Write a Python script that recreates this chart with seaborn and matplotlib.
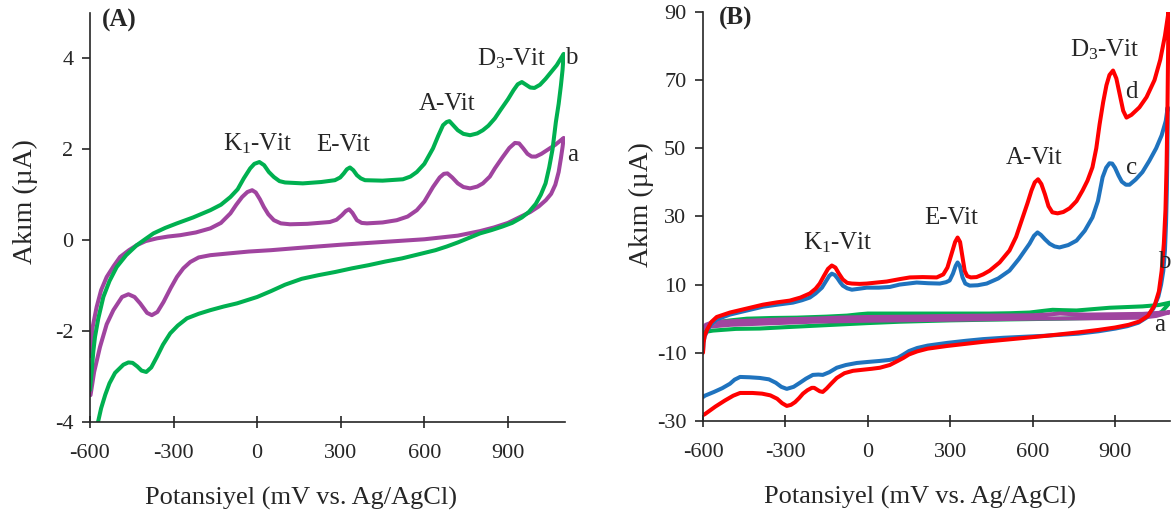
import numpy as np
import pandas as pd
import matplotlib
matplotlib.use("Agg")
import matplotlib.pyplot as plt
import seaborn as sns

# ---- Panel A: potential (mV) / current (uA); forward scan then reverse scan ----
a_fwd_x = [-600, -590, -576, -560, -540, -515, -492, -460, -432, -400, -360, -320, -276, -220, -168, -130,
           -96, -75, -54, -35, -18, -5, 10, 24, 40, 60, 85, 118, 180, 261, 285, 304, 318, 330, 342, 358,
           375, 394, 450, 501, 540, 573, 600, 631, 655, 670, 683, 700, 720, 740, 764, 790, 810, 835, 853,
           880, 905, 925, 940, 955, 970, 985, 1000, 1020, 1045, 1070, 1090, 1100]
a_fwd_y = [-2.55, -1.9, -1.47, -1.1, -0.81, -0.57, -0.37, -0.22, -0.11, -0.02, 0.04, 0.08, 0.11, 0.17, 0.26, 0.38,
           0.59, 0.78, 0.95, 1.06, 1.10, 1.05, 0.9, 0.73, 0.57, 0.44, 0.37, 0.35, 0.36, 0.40, 0.45, 0.55, 0.64, 0.68, 0.6, 0.44,
           0.38, 0.37, 0.39, 0.44, 0.52, 0.66, 0.85, 1.17, 1.38, 1.46, 1.47, 1.38, 1.25, 1.17, 1.14, 1.18, 1.25, 1.4, 1.58,
           1.82, 2.03, 2.14, 2.13, 2.02, 1.9, 1.84, 1.84, 1.9, 2.0, 2.1, 2.2, 2.25]
a_rev_x = [1100, 1096, 1090, 1082, 1070, 1055, 1036, 1010, 980, 940, 900, 850, 800, 720, 600, 450, 300, 150,
           50, -30, -100, -168, -210, -240, -265, -288, -310, -336, -358, -378, -395, -420, -440, -462, -485,
           -516, -540, -564, -585, -598]
a_rev_y = [2.25, 2.05, 1.8, 1.5, 1.22, 1.02, 0.88, 0.74, 0.62, 0.5, 0.38, 0.28, 0.2, 0.1, 0.02, -0.04, -0.1, -0.17,
           -0.22, -0.25, -0.29, -0.33, -0.38, -0.48, -0.62, -0.81, -1.05, -1.36, -1.58, -1.65, -1.6, -1.39, -1.25, -1.19, -1.25,
           -1.54, -1.85, -2.35, -2.9, -3.41]

b_fwd_x = [-600, -594, -588, -582, -570, -552, -530, -504, -470, -432, -400, -372, -330, -288, -230, -168,
           -130, -96, -70, -48, -25, -10, 8, 25, 42, 60, 80, 100, 164, 230, 279, 298, 311, 322, 333, 345,
           358, 372, 387, 450, 523, 550, 573, 600, 631, 650, 667, 680, 690, 705, 720, 740, 764, 790, 810,
           830, 853, 875, 900, 920, 935, 950, 965, 980, 995, 1015, 1035, 1055, 1075, 1090, 1100]
b_fwd_y = [-3.3, -2.9, -2.45, -2.13, -1.72, -1.25, -0.9, -0.59, -0.33, -0.11, 0.03, 0.15, 0.27, 0.37, 0.5, 0.66,
           0.78, 0.95, 1.12, 1.36, 1.58, 1.68, 1.72, 1.65, 1.5, 1.39, 1.3, 1.27, 1.25, 1.28, 1.32, 1.38, 1.47, 1.56, 1.6, 1.54,
           1.43, 1.36, 1.32, 1.31, 1.34, 1.4, 1.5, 1.68, 2.02, 2.3, 2.53, 2.6, 2.62, 2.52, 2.42, 2.34, 2.31, 2.35, 2.42,
           2.52, 2.68, 2.88, 3.1, 3.3, 3.43, 3.48, 3.42, 3.36, 3.35, 3.42, 3.55, 3.7, 3.85, 4.0, 4.1]
b_rev_x = [1100, 1096, 1090, 1082, 1072, 1060, 1048, 1035, 1018, 1000, 975, 950, 915, 880, 840, 800, 760,
           720, 680, 640, 580, 520, 460, 400, 340, 280, 220, 160, 100, 50, 0, -72, -120, -168, -210, -252,
           -285, -312, -338, -360, -380, -398, -415, -430, -447, -462, -480, -510, -530, -545, -560, -571, -585]
b_rev_y = [4.1, 3.75, 3.4, 3.0, 2.6, 2.0, 1.6, 1.25, 1.0, 0.8, 0.62, 0.5, 0.38, 0.3, 0.22, 0.15, 0.05,
           -0.05, -0.14, -0.22, -0.31, -0.4, -0.47, -0.55, -0.62, -0.7, -0.77, -0.85, -0.98, -1.12, -1.25, -1.39, -1.46, -1.54,
           -1.62, -1.72, -1.88, -2.05, -2.3, -2.57, -2.8, -2.9, -2.87, -2.78, -2.7, -2.69, -2.74, -2.92, -3.15, -3.4, -3.7,
           -4.0, -4.4]

# ---- Panel B ----
pa_fwd_x = [-600, -590, -564, -480, -400, -300, -200, -100, 0, 150, 300, 450, 600, 650, 700, 750, 800, 900, 1000, 1100]
pa_fwd_y = [-3.0, -1.8, -1.0, -0.7, -0.5, -0.2, 0.0, 0.3, 0.5, 0.6, 0.8, 0.9, 1.0, 1.2, 1.5, 1.3, 1.2, 1.3, 1.4, 1.9]
pa_rev_x = [1100, 1050, 1000, 800, 600, 400, 200, 0, -200, -300, -400, -500, -600]
pa_rev_y = [1.9, 0.8, 0.3, 0.1, 0.0, -0.2, -0.4, -0.6, -0.9, -1.2, -1.5, -1.8, -2.5]

pb_fwd_x = [-600, -590, -564, -500, -440, -350, -258, -150, -76, -30, 0, 116, 324, 444, 520, 589, 640, 673,
            710, 760, 880, 1000, 1060, 1100]
pb_fwd_y = [-4.0, -2.5, -1.2, -0.5, 0.0, 0.2, 0.3, 0.6, 0.9, 1.3, 1.5, 1.5, 1.5, 1.5, 1.6, 1.8, 2.3, 2.6,
            2.5, 2.4, 3.2, 3.6, 4.0, 4.7]
pb_rev_x = [1100, 1070, 1050, 1000, 880, 700, 444, 300, 116, 0, -200, -300, -393, -480, -564, -600]
pb_rev_y = [4.7, 2.0, 1.2, 0.6, 0.3, 0.0, -0.3, -0.5, -0.9, -1.3, -2.1, -2.5, -2.9, -3.0, -3.5, -4.0]

c_fwd_x = [-600, -598, -594, -585, -570, -550, -502, -440, -382, -330, -273, -240, -211, -190, -167, -150,
           -140, -131, -120, -110, -100, -91, -75, -58, -30, -4, 40, 80, 116, 178, 220, 262, 285, 298, 310,
           320, 327, 335, 345, 355, 371, 400, 433, 475, 516, 550, 589, 605, 618, 630, 645, 662, 680, 698,
           730, 760, 790, 818, 838, 855, 868, 880, 890, 900, 913, 925, 940, 953, 975, 1000, 1025, 1050,
           1070, 1085, 1092]
c_fwd_y = [-9.5, -7, -5.2, -3.6, -1.6, -0.2, 1.2, 2.4, 3.5, 4.1, 4.7, 5.4, 6.2, 7.4, 9.1, 11.3,
           12.6, 13.2, 12.8, 11.8, 10.6, 9.7, 8.9, 8.5, 8.8, 9.1, 9.1, 9.3, 10, 10.6, 10.4, 10.3, 10.7, 11.2, 13.2,
           15.5, 16.5, 15.5, 12.1, 10.3, 9.7, 9.8, 10.3, 11.8, 14.1, 17.5, 22, 24.3, 25.3, 24.6, 23.3, 22, 21.2, 20.9,
           21.6, 22.9, 25.8, 29.7, 34.5, 41.5, 44.3, 45.6, 45.5, 44.3, 42, 40.2, 39.3, 39.3, 40.8, 43, 46.3, 50,
           53.8, 58, 62]
c_rev_x = [1092, 1091, 1089, 1086, 1082, 1076, 1068, 1058, 1040, 1015, 985, 945, 902, 840, 767, 650, 495,
           420, 356, 290, 218, 180, 150, 130, 109, 80, 44, 0, -40, -80, -113, -140, -164, -180, -200, -225,
           -247, -270, -295, -315, -335, -360, -393, -430, -465, -485, -502, -530, -560, -593, -600]
c_rev_y = [62, 50, 38, 28, 20, 14, 10, 6.5, 3, 0.3, -1.2, -2.2, -2.9, -3.7, -4.4, -5.0, -5.6,
           -6.0, -6.5, -7.1, -7.9, -8.6, -9.5, -10.5, -11.5, -12.1, -12.4, -12.7, -13, -13.6, -14.4, -15.7, -16.5, -16.4, -16.5, -17.6,
           -18.8, -20.0, -20.6, -20.0, -18.8, -17.8, -17.4, -17.2, -17.1, -17.9, -19.1, -20.4, -21.5, -22.6, -23]

d_fwd_x = [-600, -598, -594, -585, -570, -550, -502, -440, -382, -330, -284, -245, -211, -190, -175, -160,
           -145, -131, -118, -105, -91, -75, -58, -30, -4, 69, 116, 153, 200, 251, 275, 290, 305, 318, 327,
           336, 345, 353, 362, 375, 396, 420, 444, 480, 516, 540, 564, 582, 596, 608, 620, 632, 645, 658,
           672, 691, 712, 735, 760, 782, 800, 818, 832, 844, 857, 869, 880, 893, 905, 918, 930, 942, 960,
           989, 1015, 1044, 1065, 1082, 1095]
d_fwd_y = [-10, -7, -5, -3.2, -1.0, 0.5, 1.8, 3.0, 4.1, 4.8, 5.3, 6.2, 7.4, 8.8, 10.3, 12.5,
           14.6, 15.6, 15.0, 13.2, 11.5, 10.5, 10.3, 10.2, 10.3, 10.9, 11.6, 12.1, 12.2, 12.1, 13, 15, 19, 22.5, 23.8,
           22.5, 18, 14, 12.5, 12.1, 12.2, 13, 14.1, 16.5, 20, 24, 29.7, 34, 37.6, 40, 40.9, 39.5, 36.5, 33,
           31.2, 30.9, 31.3, 32.4, 34.5, 37.6, 40.5, 44.4, 50, 57, 63.5, 68.5, 71.5, 72.8, 70.5, 65.5, 61, 59, 59.8,
           62, 65, 70, 76, 83, 90]
d_rev_x = [1095, 1093, 1091, 1088, 1084, 1078, 1070, 1060, 1045, 1020, 990, 950, 900, 840, 770, 700, 629,
           500, 420, 356, 290, 218, 180, 150, 130, 109, 80, 44, 15, -20, -54, -85, -113, -135, -150, -164,
           -175, -185, -195, -204, -220, -236, -250, -265, -280, -295, -312, -330, -355, -385, -420, -465,
           -490, -520, -555, -593, -600]
d_rev_y = [90, 75, 60, 45, 32, 22, 14, 8, 4, 0.8, -0.8, -1.8, -2.6, -3.3, -4.0, -4.6, -5.2,
           -6.2, -6.8, -7.4, -8.0, -8.8, -9.6, -10.5, -11.5, -12.4, -13.6, -14.4, -14.7, -15.0, -15.3, -16.0, -17.4, -19.2, -20.5, -21.5,
           -21.3, -20.8, -20.3, -20.3, -21, -22, -23.3, -24.5, -25.3, -25.6, -24.8, -23.5, -22.5, -22, -21.8, -21.8,
           -22.6, -24, -25.8, -28, -28.3]

GREEN = "#00B050"
PURPLE = "#A0449F"
BLUE = "#1F73BE"
RED = "#FF0000"

sns.set_style("ticks")
plt.rcParams["font.family"] = ["Liberation Serif", "DejaVu Serif"]
plt.rcParams["mathtext.fontset"] = "custom"
plt.rcParams["mathtext.rm"] = "Liberation Serif"
plt.rcParams["mathtext.it"] = "Liberation Serif:italic"
plt.rcParams["axes.unicode_minus"] = False

fig = plt.figure(figsize=(11.76, 5.19), dpi=100)
axA = fig.add_axes([0.0765, 0.187, 0.404, 0.788])
axB = fig.add_axes([0.5978, 0.189, 0.397, 0.788])


def draw_cv(ax, fx, fy, rx, ry, color):
    df = pd.DataFrame({"E": list(fx) + list(rx), "I": list(fy) + list(ry)})
    sns.lineplot(data=df, x="E", y="I", sort=False, estimator=None, color=color,
                 lw=2.9, ax=ax, solid_capstyle="round", solid_joinstyle="round")


draw_cv(axA, a_fwd_x, a_fwd_y, a_rev_x, a_rev_y, PURPLE)
draw_cv(axA, b_fwd_x, b_fwd_y, b_rev_x, b_rev_y, GREEN)

draw_cv(axB, pb_fwd_x, pb_fwd_y, pb_rev_x, pb_rev_y, GREEN)
draw_cv(axB, pa_fwd_x, pa_fwd_y, pa_rev_x, pa_rev_y, PURPLE)
draw_cv(axB, c_fwd_x, c_fwd_y, c_rev_x, c_rev_y, BLUE)
draw_cv(axB, d_fwd_x, d_fwd_y, d_rev_x, d_rev_y, RED)

xt = [-600, -300, 0, 300, 600, 900]
for ax in (axA, axB):
    sns.despine(ax=ax)
    ax.spines["left"].set_linewidth(1.2)
    ax.spines["bottom"].set_linewidth(1.2)
    ax.set_xticks(xt)
    ax.set_xticklabels([str(v) for v in xt])
    ax.tick_params(axis="x", direction="inout", length=8, width=1.2, labelsize=16, pad=12)
    ax.tick_params(axis="y", direction="out", length=6, width=1.2, labelsize=16, pad=6)
    ax.set_xlabel("Potansiyel (mV vs. Ag/AgCl)", fontsize=19)
    ax.set_ylabel("Akım (µA)", fontsize=20)

axA.set_xlim(-600, 1105)
axA.set_ylim(-4, 5)
axA.set_yticks([-4, -2, 0, 2, 4])
axA.xaxis.set_label_coords(0.445, -0.16)
axA.yaxis.set_label_coords(-0.11, 0.54)

axB.set_xlim(-600, 1100)
axB.set_ylim(-30, 90)
axB.set_yticks([-30, -10, 10, 30, 50, 70, 90])
axB.xaxis.set_label_coords(0.465, -0.16)
axB.yaxis.set_label_coords(-0.105, 0.53)

fs = 18
axA.text(-558, 4.84, "(A)", fontsize=18, fontweight="bold", ha="left", va="center")
axA.text(3, 2.13, r"K$_\mathrm{1}$-Vit", fontsize=fs, ha="center", va="center")
axA.text(308, 2.09, "E-Vit", fontsize=fs, ha="center", va="center")
axA.text(681, 3.0, "A-Vit", fontsize=fs, ha="center", va="center")
axA.text(914, 4.0, r"D$_\mathrm{3}$-Vit", fontsize=fs, ha="center", va="center")
axA.text(1129, 4.02, "b", fontsize=fs, ha="center", va="center", clip_on=False)
axA.text(1133, 1.87, "a", fontsize=fs, ha="center", va="center", clip_on=False)

axB.text(-542, 88.2, "(B)", fontsize=18, fontweight="bold", ha="left", va="center")
axB.text(-109, 22.4, r"K$_\mathrm{1}$-Vit", fontsize=fs, ha="center", va="center")
axB.text(305, 29.4, "E-Vit", fontsize=fs, ha="center", va="center")
axB.text(607, 47, "A-Vit", fontsize=fs, ha="center", va="center")
axB.text(862, 78.8, r"D$_\mathrm{3}$-Vit", fontsize=fs, ha="center", va="center")
axB.text(960, 66.5, "d", fontsize=fs, ha="center", va="center")
axB.text(960, 44.1, "c", fontsize=fs, ha="center", va="center")
axB.text(1080, 16.5, "b", fontsize=fs, ha="center", va="center", clip_on=False)
axB.text(1062, -2, "a", fontsize=fs, ha="center", va="center", clip_on=False)

fig.savefig("out.png", dpi=100)
